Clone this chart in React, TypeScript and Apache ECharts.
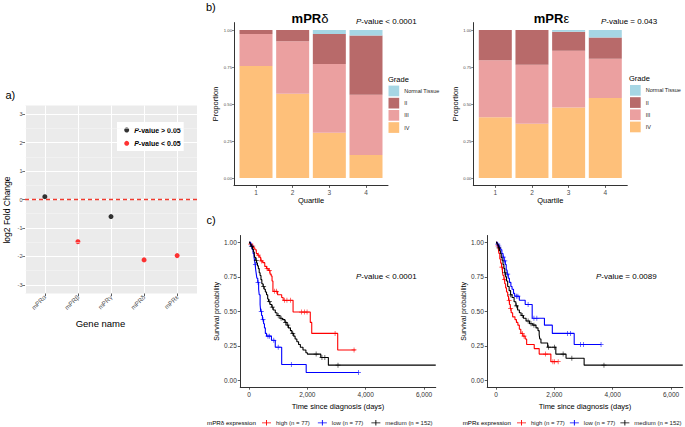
import React, { useEffect, useRef } from 'react';
import * as echarts from 'echarts';

const FONT = '"Liberation Sans", Arial, Helvetica, sans-serif';

// ---------- Panel a: log2 fold change ----------
const genes = ['mPRα', 'mPRβ', 'mPRγ', 'mPRδ', 'mPRε'];
const log2FoldChange = [0.1, -1.48, -0.6, -2.12, -1.97];
const significant = [false, true, false, true, true];
const foldTicks = [-3, -2, -1, 0, 1, 2, 3];
const foldMinor = [-2.5, -1.5, -0.5, 0.5, 1.5, 2.5];
const foldReference = 0;

// ---------- Panel b: grade proportions per quartile ----------
const quartiles = ['1', '2', '3', '4'];
const gradeLegend = ['Normal Tissue', 'II', 'III', 'IV'];
const propTicks = [0, 0.25, 0.5, 0.75, 1];

const deltaIV = [0.757, 0.57, 0.306, 0.155];
const deltaIII = [0.216, 0.354, 0.464, 0.408];
const deltaII = [0.027, 0.076, 0.203, 0.399];
const deltaNormal = [0, 0, 0.027, 0.038];

const epsIV = [0.411, 0.366, 0.476, 0.54];
const epsIII = [0.384, 0.399, 0.384, 0.266];
const epsII = [0.205, 0.235, 0.129, 0.144];
const epsNormal = [0, 0, 0.011, 0.05];

// ---------- Panel c: Kaplan-Meier curves ----------
const timeTicks = [0, 2000, 4000, 6000];
const kmNames = ['high (n = 77)', 'low (n = 77)', 'medium (n = 152)'];

const deltaHigh = [[0, 1], [40, 0.987], [90, 0.974], [150, 0.96], [200, 0.947], [250, 0.92], [300, 0.907], [350, 0.893], [400, 0.866], [470, 0.853], [540, 0.826], [600, 0.81], [660, 0.797], [720, 0.77], [760, 0.756], [790, 0.72], [820, 0.645], [980, 0.62], [1120, 0.6], [1170, 0.58], [1510, 0.495], [2100, 0.42], [2150, 0.34], [3040, 0.22], [3650, 0.22]];
const deltaHighCens = [[55, 0.987], [130, 0.974], [320, 0.907], [430, 0.866], [620, 0.81], [700, 0.797], [880, 0.645], [940, 0.645], [1220, 0.58], [1300, 0.58], [1420, 0.58], [1800, 0.495], [1900, 0.495], [1990, 0.495], [2950, 0.34], [3600, 0.22]];

const deltaLow = [[0, 1], [60, 0.974], [110, 0.948], [140, 0.92], [170, 0.895], [190, 0.87], [210, 0.84], [230, 0.8], [250, 0.77], [270, 0.74], [300, 0.71], [330, 0.66], [350, 0.62], [380, 0.55], [400, 0.5], [430, 0.47], [460, 0.44], [500, 0.41], [530, 0.38], [560, 0.34], [600, 0.32], [770, 0.29], [900, 0.24], [1120, 0.115], [1960, 0.057], [3750, 0.057]];
const deltaLowCens = [[80, 0.974], [220, 0.84], [310, 0.71], [420, 0.5], [480, 0.44], [650, 0.32], [700, 0.32], [850, 0.29], [1000, 0.24], [1450, 0.115], [3750, 0.057]];

const deltaMedium = [[0, 1], [30, 0.99], [60, 0.98], [90, 0.97], [120, 0.95], [150, 0.93], [180, 0.91], [200, 0.89], [230, 0.87], [260, 0.85], [290, 0.83], [320, 0.81], [350, 0.78], [380, 0.76], [410, 0.73], [440, 0.7], [480, 0.68], [520, 0.66], [560, 0.64], [600, 0.62], [640, 0.59], [670, 0.57], [720, 0.55], [780, 0.53], [830, 0.51], [900, 0.49], [960, 0.47], [1060, 0.45], [1150, 0.44], [1230, 0.42], [1300, 0.4], [1350, 0.38], [1420, 0.36], [1470, 0.34], [1530, 0.32], [1580, 0.3], [1640, 0.28], [1700, 0.26], [1760, 0.24], [1850, 0.22], [1950, 0.2], [2000, 0.19], [2460, 0.165], [2720, 0.11], [6400, 0.11]];
const deltaMediumCens = [[100, 0.97], [250, 0.87], [500, 0.68], [700, 0.57], [800, 0.53], [1000, 0.47], [1100, 0.45], [1250, 0.42], [1330, 0.4], [1500, 0.34], [2300, 0.19], [2500, 0.165], [2600, 0.165], [3050, 0.11]];

const epsHigh = [[0, 1], [40, 0.974], [80, 0.95], [100, 0.92], [130, 0.88], [160, 0.85], [190, 0.82], [220, 0.79], [240, 0.76], [270, 0.73], [300, 0.7], [330, 0.67], [360, 0.64], [400, 0.61], [430, 0.58], [460, 0.55], [490, 0.52], [520, 0.49], [570, 0.46], [650, 0.44], [700, 0.42], [750, 0.4], [800, 0.37], [850, 0.34], [920, 0.32], [1000, 0.3], [1050, 0.26], [1310, 0.23], [1480, 0.19], [1880, 0.135], [2130, 0.135]];
const epsHighCens = [[60, 0.974], [200, 0.82], [290, 0.73], [450, 0.58], [500, 0.52], [900, 0.34], [960, 0.32], [1700, 0.19], [1950, 0.135], [2000, 0.135], [2130, 0.135]];

const epsLow = [[0, 1], [40, 0.987], [80, 0.974], [120, 0.96], [160, 0.947], [200, 0.92], [240, 0.893], [280, 0.866], [320, 0.84], [350, 0.8], [380, 0.77], [420, 0.74], [460, 0.71], [510, 0.68], [550, 0.66], [600, 0.63], [640, 0.61], [800, 0.58], [1000, 0.55], [1240, 0.45], [1660, 0.4], [1930, 0.34], [2680, 0.26], [3600, 0.26]];
const epsLowCens = [[60, 0.987], [100, 0.974], [250, 0.893], [300, 0.866], [400, 0.77], [700, 0.61], [750, 0.61], [1100, 0.55], [1300, 0.45], [1400, 0.45], [2450, 0.34], [2550, 0.34], [2900, 0.26], [3000, 0.26], [3600, 0.26]];

const epsMedium = [[0, 1], [30, 0.99], [60, 0.98], [90, 0.96], [120, 0.94], [150, 0.92], [180, 0.89], [210, 0.87], [240, 0.84], [270, 0.81], [300, 0.78], [330, 0.75], [360, 0.72], [400, 0.68], [450, 0.65], [500, 0.62], [550, 0.6], [620, 0.57], [680, 0.54], [740, 0.51], [800, 0.49], [860, 0.47], [940, 0.45], [1030, 0.43], [1150, 0.41], [1260, 0.4], [1370, 0.38], [1440, 0.36], [1480, 0.33], [1500, 0.3], [1540, 0.27], [1770, 0.24], [2050, 0.19], [2400, 0.16], [3020, 0.11], [6400, 0.11]];
const epsMediumCens = [[100, 0.96], [300, 0.78], [500, 0.62], [700, 0.54], [900, 0.47], [1100, 0.43], [1200, 0.41], [1300, 0.4], [1800, 0.24], [2000, 0.24], [2300, 0.19], [2600, 0.16], [3700, 0.11]];

// ---------- styles ----------
const GRADE_COLORS: Record<string, string> = {
  'Normal Tissue': '#A6D6E4',
  II: '#B86A6A',
  III: '#EBA0A0',
  IV: '#FEC07A',
};
const KM_COLORS = ['#FF0000', '#0000FF', '#000000'];
const ZERO_RED = '#F03A2E';
const PLUS = 'path://M0,4.3H10V5.7H0Z M4.3,0H5.7V10H4.3Z';
const PLUS_LEGEND = 'path://M0,2.6H10V3.4H0Z M4.5,0H5.5V6H4.5Z';

const italicP = (s: string) => s.replace(/^P/, '{i|P}');

function txt(x: number, y: number, text: string, fontSize: number, extra: any = {}, el: any = {}) {
  return {
    type: 'text',
    x,
    y,
    silent: true,
    ...el,
    style: {
      text,
      fontSize,
      fontFamily: FONT,
      fill: '#000',
      align: 'left',
      verticalAlign: 'middle',
      ...extra,
    },
  };
}

function pValueText(x: number, y: number, text: string) {
  return txt(x, y, italicP(text), 8, {
    rich: { i: { fontStyle: 'italic', fontSize: 8, fontFamily: FONT, fill: '#000' } },
  });
}

// Category axes (in thin helper grids whose bands line up with the value scale) carry the discrete tick labels
function categoryLabelAxis(gridIndex: number, data: string[], label: any, tickLen: number) {
  return {
    gridIndex,
    type: 'category',
    data,
    boundaryGap: true,
    axisLine: { show: false },
    axisTick: { show: true, alignWithLabel: true, length: tickLen, lineStyle: { color: '#333', width: 0.8 } },
    axisLabel: { interval: 0, fontFamily: FONT, ...label },
    splitLine: { show: false },
  };
}

function barAxisX(gridIndex: number) {
  return {
    gridIndex,
    type: 'value',
    min: 0.4,
    max: 4.6,
    splitNumber: 4,
    axisLine: { show: true, onZero: false, lineStyle: { color: '#333', width: 1 } },
    axisTick: { show: false },
    axisLabel: { show: false },
    splitLine: { show: false },
    name: 'Quartile',
    nameLocation: 'middle',
    nameGap: 11.5,
    nameTextStyle: { fontSize: 7.5, color: '#000', fontFamily: FONT },
  };
}

function barAxisY(gridIndex: number, nameGap: number) {
  return {
    gridIndex,
    type: 'value',
    min: -0.05,
    max: 1.05,
    axisLine: { show: true, onZero: false, lineStyle: { color: '#333', width: 1 } },
    axisTick: { show: true, customValues: propTicks, length: 2, lineStyle: { color: '#333', width: 0.6 } },
    axisLabel: {
      customValues: propTicks,
      formatter: (v: number) => v.toFixed(2),
      fontSize: 4.2,
      color: '#4d4d4d',
      margin: 2,
      fontFamily: FONT,
    },
    splitLine: { show: false },
    name: 'Proportion',
    nameLocation: 'middle',
    nameGap,
    nameTextStyle: { fontSize: 7.5, color: '#000', fontFamily: FONT },
  };
}

function kmAxisX(gridIndex: number) {
  return {
    gridIndex,
    type: 'value',
    min: -300,
    max: 6400,
    axisLine: { show: true, onZero: false, lineStyle: { color: '#333', width: 1 } },
    axisTick: { show: true, customValues: timeTicks, length: 2.5, lineStyle: { color: '#333', width: 0.8 } },
    axisLabel: { customValues: timeTicks, fontSize: 6.5, color: '#333', margin: 3.5, fontFamily: FONT },
    splitLine: { show: false },
    name: 'Time since diagnosis (days)',
    nameLocation: 'middle',
    nameGap: 15.5,
    nameTextStyle: { fontSize: 7.5, color: '#000', fontFamily: FONT },
  };
}

function kmAxisY(gridIndex: number) {
  return {
    gridIndex,
    type: 'value',
    min: -0.05,
    max: 1.05,
    axisLine: { show: true, onZero: false, lineStyle: { color: '#333', width: 1 } },
    axisTick: { show: true, customValues: propTicks, length: 2.5, lineStyle: { color: '#333', width: 0.8 } },
    axisLabel: {
      customValues: propTicks,
      formatter: (v: number) => v.toFixed(2),
      fontSize: 6.5,
      color: '#333',
      margin: 3.5,
      fontFamily: FONT,
    },
    splitLine: { show: false },
    name: 'Survival probability',
    nameLocation: 'middle',
    nameGap: 16.5,
    nameTextStyle: { fontSize: 7, color: '#000', fontFamily: FONT },
  };
}

// value first (stacked dimension), quartile position second (base axis x)
function stackSeries(axis: number, stack: string, groups: [string, number[]][]) {
  return groups.map(([name, values]) => ({
    type: 'bar',
    name,
    xAxisIndex: axis,
    yAxisIndex: axis,
    stack,
    barWidth: 33,
    silent: true,
    label: { show: false },
    itemStyle: { color: GRADE_COLORS[name] },
    encode: { x: 1, y: 0 },
    data: quartiles.map((q, i) => [values[i], Number(q)]),
  }));
}

function kmSeries(axis: number, curves: [number[][], number[][]][]) {
  const out: any[] = [];
  curves.forEach(([steps, cens], k) => {
    out.push({
      type: 'line',
      name: kmNames[k],
      xAxisIndex: axis,
      yAxisIndex: axis,
      step: 'end',
      symbol: 'none',
      silent: true,
      z: 3 + k,
      lineStyle: { color: KM_COLORS[k], width: 1.1 },
      itemStyle: { color: KM_COLORS[k] },
      data: steps,
    });
    out.push({
      type: 'scatter',
      name: kmNames[k] + ' censored',
      xAxisIndex: axis,
      yAxisIndex: axis,
      symbol: PLUS,
      symbolSize: 5,
      silent: true,
      z: 3 + k,
      itemStyle: { color: KM_COLORS[k] },
      data: cens,
    });
  });
  return out;
}

function kmLegend(left: number, itemGap: number) {
  return {
    left,
    top: 419.8,
    width: 240,
    orient: 'horizontal',
    padding: 0,
    itemWidth: 9,
    itemHeight: 6,
    itemGap,
    icon: PLUS_LEGEND,
    selectedMode: false,
    data: kmNames,
    textStyle: { fontSize: 6, color: '#222', fontFamily: FONT },
  };
}

function gradeLegendBox(left: number, top: number) {
  return {
    left,
    top,
    orient: 'vertical',
    padding: 0,
    itemWidth: 10.7,
    itemHeight: 10.7,
    itemGap: 1.5,
    icon: 'rect',
    selectedMode: false,
    data: gradeLegend,
    textStyle: { fontSize: 5.5, color: '#222', fontFamily: FONT },
  };
}

export default function App() {
  const ref = useRef<HTMLDivElement>(null);

  useEffect(() => {
    if (!ref.current) return;
    const chart = echarts.init(ref.current, null, { renderer: 'svg' });

    const foldPoints = genes.map((g, i) => [i + 1, log2FoldChange[i]]);
    const notSig = foldPoints.filter((_, i) => !significant[i]);
    const sig = foldPoints.filter((_, i) => significant[i]);

    // panel a: 172px for 5.2 units; panel b: 154px for 4.2 units
    const aUnit = 172 / 5.2;
    const bUnit = 154 / 4.2;

    const option: any = {
      animation: false,
      textStyle: { fontFamily: FONT },
      grid: [
        { left: 25, top: 105.5, width: 172, height: 188, show: true, backgroundColor: '#EBEBEB', borderWidth: 0, outerBoundsMode: 'none' },
        { left: 234, top: 22.6, width: 154, height: 162.8, outerBoundsMode: 'none' },
        { left: 473.3, top: 22.6, width: 154, height: 162.8, outerBoundsMode: 'none' },
        { left: 240.25, top: 235.5, width: 195.5, height: 151.7, outerBoundsMode: 'none' },
        { left: 487.25, top: 235.5, width: 195.5, height: 151.7, outerBoundsMode: 'none' },
        // label helper grids (bottoms coincide with the panels above)
        { left: 25 + 0.1 * aUnit, top: 283.5, width: 5 * aUnit, height: 10, outerBoundsMode: 'none' },
        { left: 234 + 0.1 * bUnit, top: 175.4, width: 4 * bUnit, height: 10, outerBoundsMode: 'none' },
        { left: 473.3 + 0.1 * bUnit, top: 175.4, width: 4 * bUnit, height: 10, outerBoundsMode: 'none' },
      ],
      xAxis: [
        {
          gridIndex: 0,
          type: 'value',
          min: 0.4,
          max: 5.6,
          splitNumber: 5,
          axisLine: { show: false, onZero: false },
          axisTick: { show: false },
          axisLabel: { show: false },
          splitLine: { show: true, lineStyle: { color: '#FFFFFF', width: 1 } },
        },
        barAxisX(1),
        barAxisX(2),
        kmAxisX(3),
        kmAxisX(4),
        categoryLabelAxis(5, genes, { rotate: 45, fontSize: 6.3, color: '#4d4d4d', margin: 2.5 }, 2.7),
        categoryLabelAxis(6, quartiles, { fontSize: 6.5, color: '#4d4d4d', margin: 3.5 }, 2.5),
        categoryLabelAxis(7, quartiles, { fontSize: 6.5, color: '#4d4d4d', margin: 3.5 }, 2.5),
      ],
      yAxis: [
        {
          gridIndex: 0,
          type: 'value',
          min: -3.3,
          max: 3.3,
          splitNumber: 6,
          axisLine: { show: false, onZero: false },
          axisTick: { show: true, customValues: foldTicks, length: 2.7, lineStyle: { color: '#333', width: 0.7 } },
          axisLabel: { customValues: foldTicks, fontSize: 5.5, color: '#4d4d4d', margin: 2.5, fontFamily: FONT },
          splitLine: { show: true, lineStyle: { color: '#FFFFFF', width: 1 } },
        },
        barAxisY(1, 14),
        barAxisY(2, 12.5),
        kmAxisY(3),
        kmAxisY(4),
        { gridIndex: 5, type: 'value', show: false },
        { gridIndex: 6, type: 'value', show: false },
        { gridIndex: 7, type: 'value', show: false },
      ],
      legend: [
        {
          left: 117,
          top: 122,
          orient: 'vertical',
          backgroundColor: '#FFFFFF',
          padding: [4, 3, 3.7, 7.2],
          itemWidth: 5,
          itemHeight: 5,
          itemGap: 5.3,
          icon: 'circle',
          selectedMode: false,
          data: ['P-value > 0.05', 'P-value < 0.05'],
          formatter: (n: string) => italicP(n),
          textStyle: {
            fontSize: 7,
            fontWeight: 'bold',
            color: '#000',
            fontFamily: FONT,
            lineHeight: 8,
            rich: { i: { fontStyle: 'italic', fontWeight: 'bold', fontSize: 7, lineHeight: 8, fontFamily: FONT, color: '#000' } },
          },
        },
        gradeLegendBox(388.5, 85.6),
        gradeLegendBox(630, 85),
        kmLegend(262, 8),
        kmLegend(517, 5),
      ],
      series: [
        {
          type: 'scatter',
          name: 'P-value > 0.05',
          xAxisIndex: 0,
          yAxisIndex: 0,
          symbolSize: 5,
          silent: true,
          z: 4,
          itemStyle: { color: '#000000' },
          data: notSig,
          markLine: {
            silent: true,
            symbol: 'none',
            label: { show: false },
            lineStyle: { color: '#F7F7F7', width: 0.5, type: 'solid' },
            data: foldMinor.map((v) => ({ yAxis: v })),
          },
        },
        {
          // horizontal reference line at log2 fold change = 0, across the axis extent
          type: 'line',
          name: 'zero',
          xAxisIndex: 0,
          yAxisIndex: 0,
          symbol: 'none',
          silent: true,
          z: 3,
          color: ZERO_RED,
          lineStyle: { color: ZERO_RED, width: 1.5, type: [4, 3], opacity: 1 },
          itemStyle: { color: ZERO_RED },
          data: [[0.4, foldReference], [5.6, foldReference]],
        },
        {
          type: 'scatter',
          name: 'P-value < 0.05',
          xAxisIndex: 0,
          yAxisIndex: 0,
          symbolSize: 5,
          silent: true,
          z: 4,
          itemStyle: { color: '#FF0000' },
          data: sig,
        },
        ...stackSeries(1, 'delta', [['IV', deltaIV], ['III', deltaIII], ['II', deltaII], ['Normal Tissue', deltaNormal]]),
        ...stackSeries(2, 'eps', [['IV', epsIV], ['III', epsIII], ['II', epsII], ['Normal Tissue', epsNormal]]),
        ...kmSeries(3, [[deltaHigh, deltaHighCens], [deltaLow, deltaLowCens], [deltaMedium, deltaMediumCens]]),
        ...kmSeries(4, [[epsHigh, epsHighCens], [epsLow, epsLowCens], [epsMedium, epsMediumCens]]),
      ],
      graphic: [
        txt(5.5, 95, 'a)', 11),
        txt(206, 7, 'b)', 11),
        txt(206.5, 220, 'c)', 11),
        txt(6.5, 210, 'log2 Fold Change', 8.5, { align: 'center' }, { rotation: Math.PI / 2 }),
        txt(100.5, 323, 'Gene name', 9.5, { align: 'center' }),
        txt(310, 18.3, '{b|mPR}{g|δ}', 13, {
          align: 'center',
          rich: {
            b: { fontWeight: 'bold', fontSize: 13, fontFamily: FONT, fill: '#000' },
            g: { fontSize: 13, fontFamily: FONT, fill: '#000' },
          },
        }),
        txt(551.5, 18.3, '{b|mPR}{g|ε}', 13, {
          align: 'center',
          rich: {
            b: { fontWeight: 'bold', fontSize: 13, fontFamily: FONT, fill: '#000' },
            g: { fontSize: 13, fontFamily: FONT, fill: '#000' },
          },
        }),
        pValueText(356, 21, 'P-value < 0.0001'),
        pValueText(601, 21, 'P-value = 0.043'),
        txt(388, 79, 'Grade', 7.5),
        txt(629, 78.3, 'Grade', 7.5),
        pValueText(356, 276, 'P-value < 0.0001'),
        pValueText(596, 276, 'P-value = 0.0089'),
        txt(207, 422.7, 'mPRδ expression', 6.2),
        txt(462.7, 422.7, 'mPRε expression', 6.2),
      ],
    };

    chart.setOption(option);
    return () => chart.dispose();
  }, []);

  return (
    <div
      ref={ref}
      style={{ position: 'fixed', left: 0, top: 0, width: 685, height: 427, background: '#fff' }}
    />
  );
}
